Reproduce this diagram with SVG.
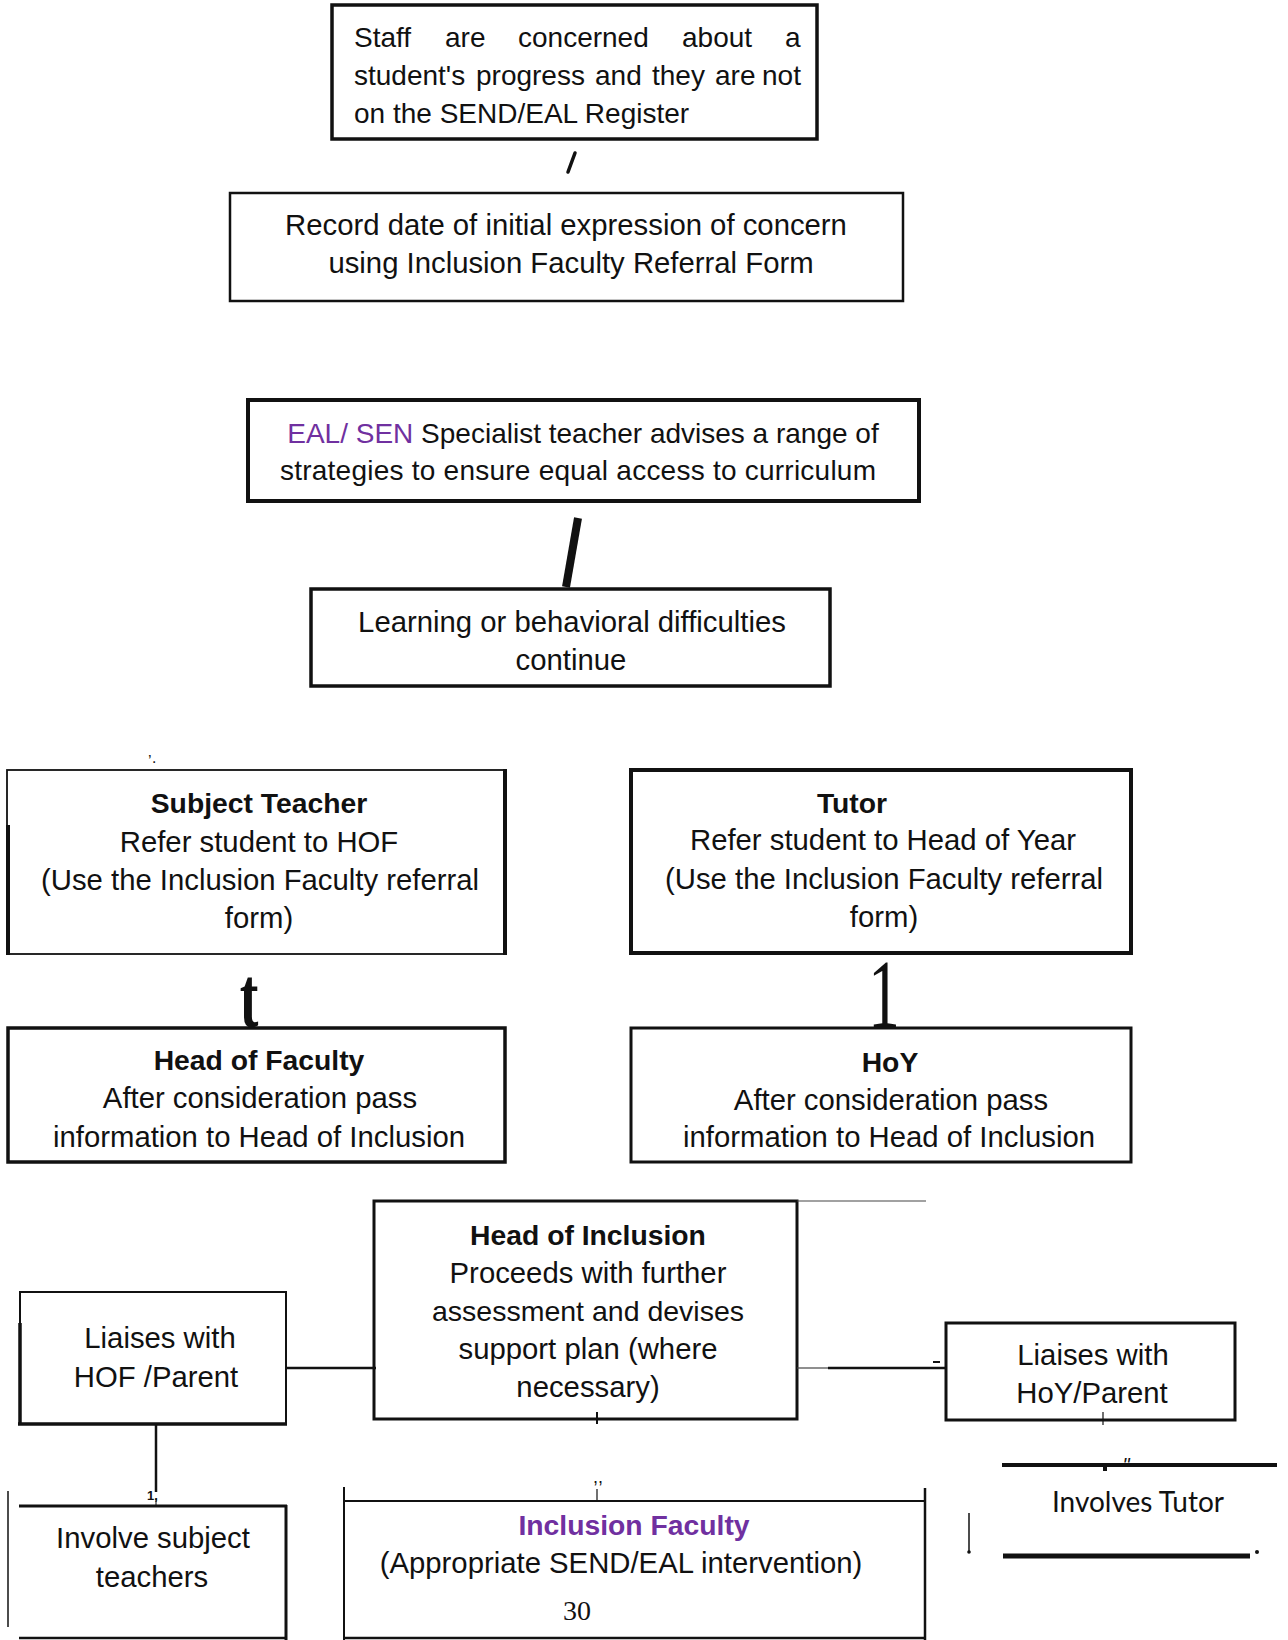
<svg xmlns="http://www.w3.org/2000/svg" width="1288" height="1640" viewBox="0 0 1288 1640">
<style>
.t{font-family:"Liberation Sans",Arial,sans-serif;font-size:29.3px;fill:#111}
.s{font-size:28px}
.b{font-weight:bold;font-size:28.3px}
.c{text-anchor:middle}
.p{fill:#7030A0}
.box{fill:none;stroke:#111}
.ln{stroke:#111;fill:none}
.g{font-family:"Liberation Serif","Times New Roman",serif;fill:#111}
</style>
<rect width="1288" height="1640" fill="#fff"/>

<g id="n-staff-concern">
<rect class="box" x="332" y="5" width="485" height="134" stroke-width="3.5"/>
<text class="t s" y="47"><tspan x="354">Staff</tspan><tspan x="445">are</tspan><tspan x="518">concerned</tspan><tspan x="682">about</tspan><tspan x="785">a</tspan></text>
<text class="t s" y="85"><tspan x="354">student's</tspan><tspan x="476">progress</tspan><tspan x="595">and</tspan><tspan x="652">they</tspan><tspan x="715">are</tspan><tspan x="762">not</tspan></text>
<text class="t s" x="354" y="123">on the SEND/EAL Register</text>
</g>

<g id="n-record-date">
<rect class="box" x="230" y="193" width="673" height="108" stroke-width="2.5"/>
<text class="t c" x="566" y="235">Record date of initial expression of concern</text>
<text class="t c" x="571" y="273">using Inclusion Faculty Referral Form</text>
</g>

<g id="n-specialist">
<rect class="box" x="248" y="400" width="671" height="101" stroke-width="4"/>
<text class="t s c" x="583" y="443"><tspan class="p">EAL/ SEN</tspan> Specialist teacher advises a range of</text>
<text class="t s" x="280" y="480" textLength="596" lengthAdjust="spacing">strategies to ensure equal access to curriculum</text>
</g>

<g id="n-difficulties">
<rect class="box" x="311" y="589" width="519" height="97" stroke-width="3.5"/>
<text class="t c" x="572" y="632">Learning or behavioral difficulties</text>
<text class="t c" x="571" y="670">continue</text>
</g>

<g id="n-subject-teacher">
<rect class="box" x="7" y="770" width="498" height="184" stroke-width="1.8"/>
<line class="ln" x1="8" y1="825" x2="8" y2="955" stroke-width="4"/>
<line class="ln" x1="505" y1="769" x2="505" y2="955" stroke-width="4"/>
<text class="t c b" x="259" y="813">Subject Teacher</text>
<text class="t c" x="259" y="852">Refer student to HOF</text>
<text class="t c" x="260" y="890">(Use the Inclusion Faculty referral</text>
<text class="t c" x="259" y="928">form)</text>
</g>

<g id="n-head-of-faculty">
<rect class="box" x="8" y="1028" width="497" height="134" stroke-width="3.5"/>
<text class="t c b" x="259" y="1070">Head of Faculty</text>
<text class="t c" x="260" y="1108">After consideration pass</text>
<text class="t c" x="259" y="1147">information to Head of Inclusion</text>
</g>

<g id="n-tutor">
<rect class="box" x="631" y="770" width="500" height="183" stroke-width="4"/>
<text class="t c b" x="852" y="813">Tutor</text>
<text class="t c" x="883" y="850">Refer student to Head of Year</text>
<text class="t c" x="884" y="889">(Use the Inclusion Faculty referral</text>
<text class="t c" x="884" y="927">form)</text>
</g>

<g id="n-hoy">
<rect class="box" x="631" y="1028" width="500" height="134" stroke-width="3"/>
<text class="t c b" x="890" y="1072">HoY</text>
<text class="t c" x="891" y="1110">After consideration pass</text>
<text class="t c" x="889" y="1147">information to Head of Inclusion</text>
</g>

<g id="n-head-of-inclusion">
<rect class="box" x="374" y="1201" width="423" height="218" stroke-width="3"/>
<text class="t c b" x="588" y="1245">Head of Inclusion</text>
<text class="t c" x="588" y="1283">Proceeds with further</text>
<text class="t c" x="588" y="1321" style="font-size:28.5px">assessment and devises</text>
<text class="t c" x="588" y="1359">support plan (where</text>
<text class="t c" x="588" y="1397">necessary)</text>
</g>

<g id="n-liaises-hof">
<rect class="box" x="20" y="1292" width="266" height="132" stroke-width="2"/>
<line class="ln" x1="20" y1="1323" x2="20" y2="1425" stroke-width="3.5"/>
<line class="ln" x1="18" y1="1424" x2="287" y2="1424" stroke-width="3.5"/>
<text class="t c" x="160" y="1348">Liaises with</text>
<text class="t c" x="156" y="1387">HOF /Parent</text>
</g>

<g id="n-liaises-hoy">
<rect class="box" x="946" y="1323" width="289" height="97" stroke-width="3"/>
<text class="t c" x="1093" y="1365">Liaises with</text>
<text class="t c" x="1092" y="1403">HoY/Parent</text>
</g>

<g id="n-involve-subject">
<line class="ln" x1="19" y1="1506" x2="287" y2="1506" stroke-width="3"/>
<line class="ln" x1="286" y1="1505" x2="286" y2="1640" stroke-width="3"/>
<line class="ln" x1="19" y1="1638" x2="287" y2="1638" stroke-width="2.5"/>
<line class="ln" x1="8" y1="1491" x2="8" y2="1627" stroke-width="1.5"/>
<text class="t c" x="153" y="1548">Involve subject</text>
<text class="t c" x="152" y="1587">teachers</text>
</g>

<g id="n-inclusion-faculty">
<line class="ln" x1="344" y1="1487" x2="344" y2="1640" stroke-width="2"/>
<line class="ln" x1="343" y1="1501" x2="926" y2="1501" stroke-width="2"/>
<line class="ln" x1="925" y1="1488" x2="925" y2="1640" stroke-width="2.5"/>
<line class="ln" x1="343" y1="1638" x2="926" y2="1638" stroke-width="2.5"/>
<text class="t c b p" x="634" y="1535">Inclusion Faculty</text>
<text class="t c" x="621" y="1573">(Appropriate SEND/EAL intervention)</text>
<text class="g c" x="577" y="1620" font-size="28">30</text>
</g>

<g id="n-involves-tutor">
<line class="ln" x1="1002" y1="1465" x2="1277" y2="1465" stroke-width="4"/>
<line class="ln" x1="1003" y1="1556" x2="1250" y2="1556" stroke-width="5"/>
<text x="1138" y="1512" text-anchor="middle" font-family="Lato,'Open Sans',sans-serif" font-size="28" fill="#111">Involves Tutor</text>
</g>

<g id="connectors">
<line class="ln" x1="575" y1="153" x2="568" y2="172" stroke-width="3.5" stroke-linecap="round"/>
<line class="ln" x1="578" y1="518" x2="566" y2="587" stroke-width="8"/>
<text class="g c" transform="translate(249,1027) scale(0.65,1)" style="font-size:86px;font-weight:bold">t</text>
<text class="g c" transform="translate(884,1027) scale(0.65,1)" style="font-size:97px">1</text>
<text class="t" x="148" y="767" style="font-size:16px">’·</text>
<line class="ln" x1="286" y1="1368" x2="376" y2="1368" stroke-width="2.5"/>
<line class="ln" x1="156" y1="1424" x2="156" y2="1492" stroke-width="2.5"/>
<text class="t" x="147" y="1500" style="font-size:13px;font-weight:bold">1,</text>
<line class="ln" x1="156" y1="1499" x2="156" y2="1506" stroke-width="1"/>
<line x1="797" y1="1368" x2="828" y2="1368" stroke="#444" stroke-width="1.2"/>
<line class="ln" x1="828" y1="1368" x2="946" y2="1368" stroke-width="2.5"/>
<line class="ln" x1="933" y1="1362" x2="940" y2="1362" stroke-width="2"/>
<line x1="797" y1="1201" x2="926" y2="1201" stroke="#444" stroke-width="1.2"/>
<line class="ln" x1="597" y1="1412" x2="597" y2="1424" stroke-width="2"/>
<line class="ln" x1="597" y1="1489" x2="597" y2="1501" stroke-width="1.2"/>
<text class="t c" x="598" y="1483" style="font-size:18px">,,</text>
<line class="ln" x1="1103" y1="1412" x2="1103" y2="1425" stroke-width="1.2"/>
<rect x="1103" y="1464" width="4" height="7" fill="#111"/>
<text class="t c" x="1126" y="1472" style="font-size:20px;font-style:italic">"</text>
<circle cx="1257" cy="1552" r="2" fill="#111"/>
<line class="ln" x1="969" y1="1513" x2="969" y2="1552" stroke-width="1.5"/>
<circle cx="969" cy="1552" r="1.8" fill="#111"/>
</g>
</svg>
